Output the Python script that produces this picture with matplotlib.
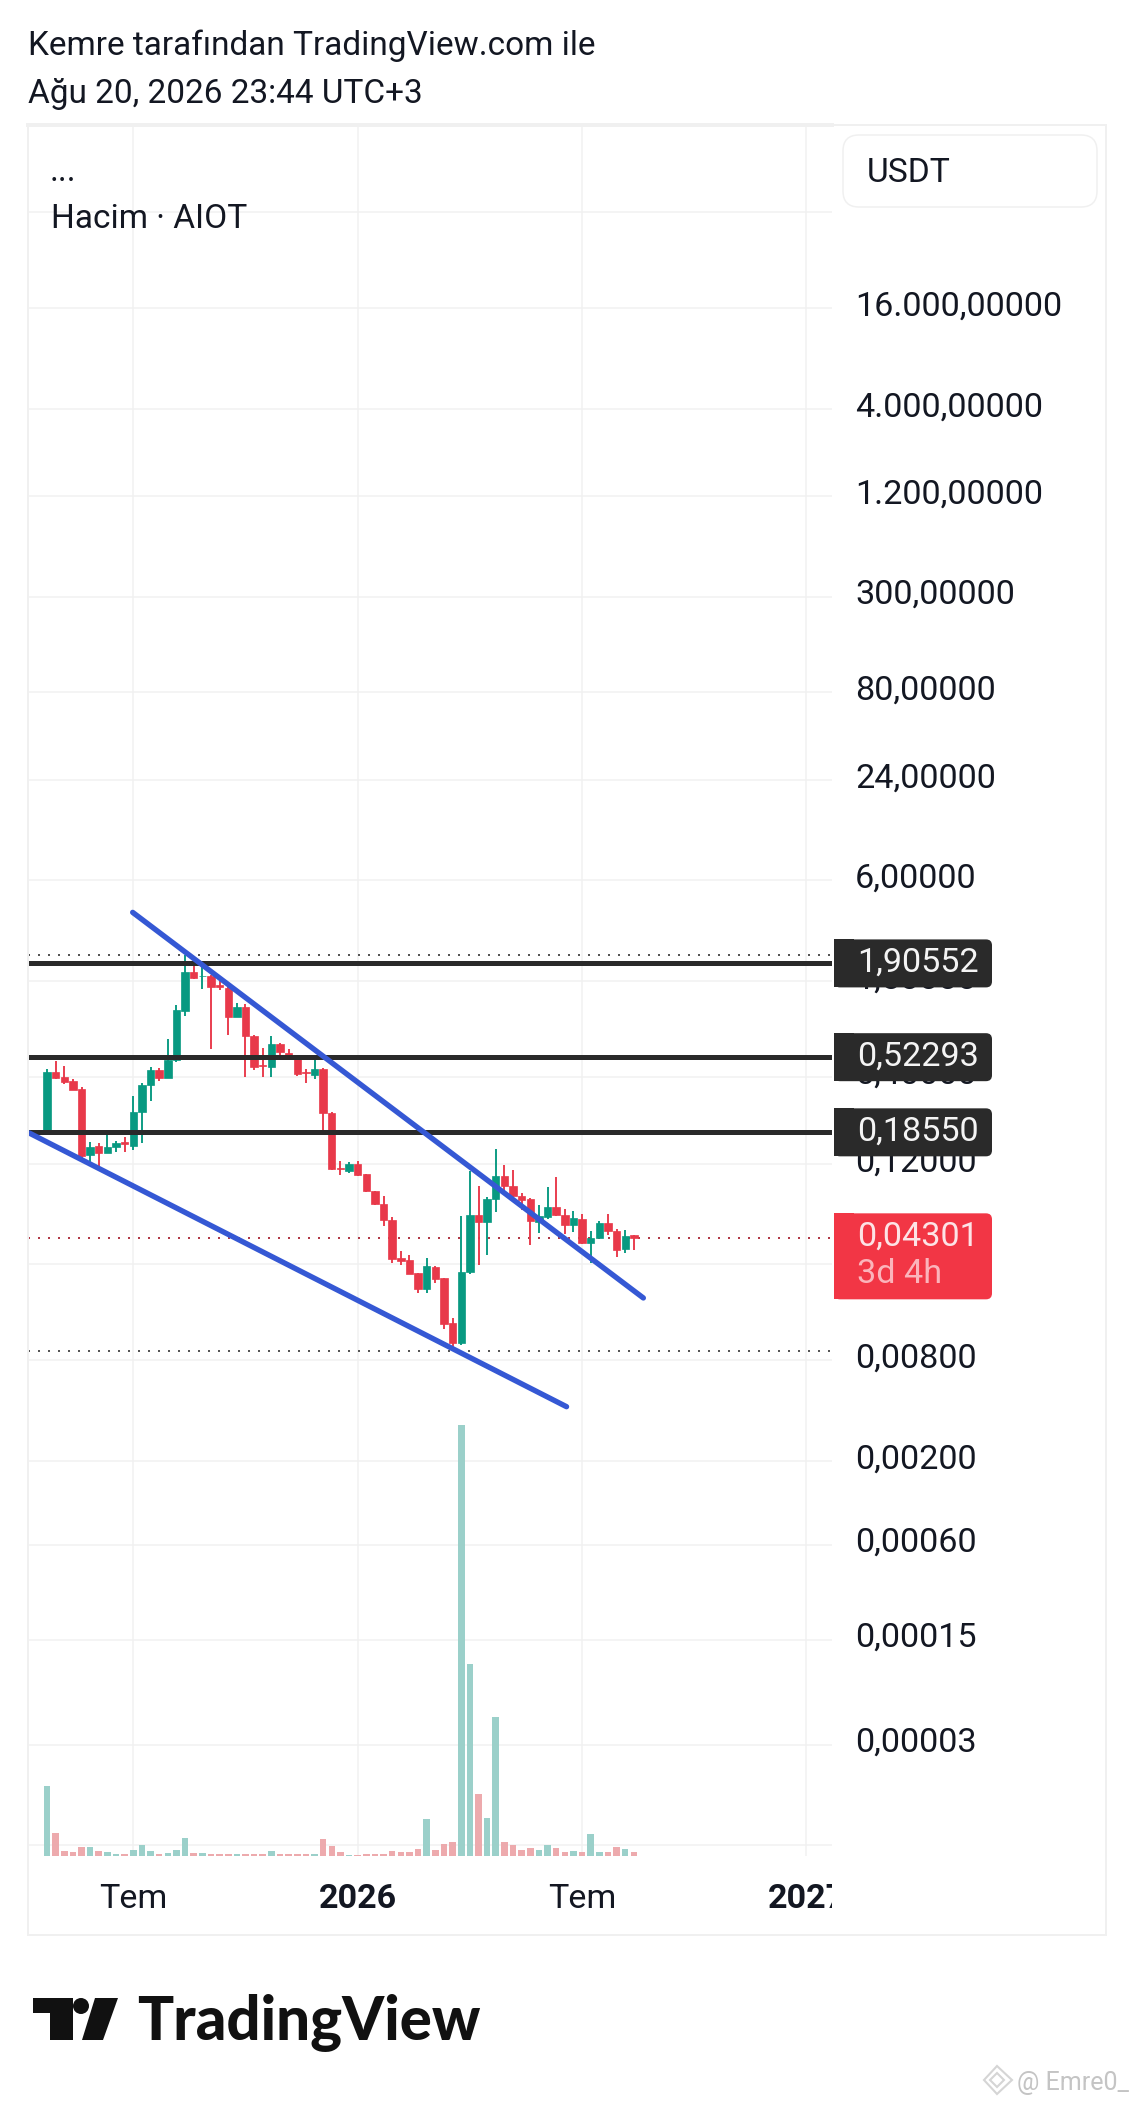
import numpy as np
import matplotlib
matplotlib.use('Agg')
import matplotlib.pyplot as plt
from matplotlib.patches import Rectangle, FancyBboxPatch, Polygon, Circle
from matplotlib.ticker import NullLocator
from matplotlib.transforms import Bbox, TransformedBbox

plt.rcParams['font.family'] = ['Roboto', 'DejaVu Sans']

W, H = 1135, 2105
PX = 0.72  # px -> pt at dpi 100

# weekly candles
opens = [.1829, .424, .3976, .3763, .337, .135, .1535, .14, .1522, .1615, .1543, .2443, .3544, .4358, .394, .5026, .992,
         1.691, 1.593, 1.593, 1.413, 1.350, .9051, 1.044, .6964, .4691, .4543, .6295, .556, .5261, .424, .4068, .442,
         .2409, .1128, .1093, .1198, .1039, .0822, .0687, .0556, .0326, .03174, .02653, .02148, .02909, .02477, .01332,
         .01015, .02715, .05903, .05359, .0736, .1011, .0889, .0767, .0736, .0541, .058, .0665, .0596, .0514, .0564,
         .0401, .043, .0529, .0478, .0373, .0448]
highs = [.442, .496, .4627, .385, .3448, .163, .1608, .1871, .1653, .173, .3059, .3677, .4584, .448, .6683, 1.073, 2.138,
         1.923, 1.863, 1.622, 1.529, 1.369, 1.108, 1.088, .7127, .5902, .6996, .6383, .5851, .531, .4438, .5096, .448,
         .2443, .1254, .1226, .1254, .1044, .083, .0767, .058, .03627, .03417, .02678, .03278, .02936, .025, .01427,
         .05849, .1093, .0885, .0764, .1473, .1182, .1103, .0807, .0746, .0678, .0868, .0997, .0641, .0624, .0599,
         .0478, .0549, .0601, .0487, .048, .045]
lows = [.180, .3887, .361, .3308, .1296, .1237, .1155, .139, .1407, .1407, .1453, .1593, .2856, .3781, .394, .4866, .9262,
        1.529, 1.332, .582, 1.319, .7127, .9051, .3958, .4379, .3958, .3958, .5073, .5073, .4031, .3677, .385, .1871,
        .1098, .1025, .1054, .1015, .0818, .0681, .0512, .03047, .02963, .02617, .02032, .02032, .02312, .01237, .00913,
        .00983, .02617, .0299, .03433, .0621, .0807, .0757, .0635, .0394, .0465, .0559, .0588, .0454, .0471, .0399,
        .03047, .043, .045, .0334, .0353, .0368]
closes = [.428, .394, .3694, .3338, .1338, .1522, .14, .1522, .1593, .1571, .2454, .3561, .4379, .394, .5026, .9968, 1.684,
          1.556, 1.607, 1.382, 1.382, .9051, 1.039, .6964, .4584, .4627, .6238, .5612, .5213, .4163, .4182, .442, .2409,
          .1113, .1113, .1198, .1025, .0822, .0687, .0556, .0325, .03145, .02641, .02138, .02922, .02443, .01326, .01015,
          .02715, .05903, .05359, .0736, .1011, .0889, .0767, .0729, .0543, .0582, .0665, .0593, .0514, .0566, .0401,
          .0434, .0529, .0478, .0368, .0446, .04301]
# relative volume, no scale on the picture
volumes = [70, 23, 5, 4, 9, 9, 5, 4, 2, 2, 6, 11, 5, 2, 3, 6, 18, 3, 3, 2, 2, 2, 2, 2, 2, 2, 5, 2, 2, 2, 2, 2, 17, 10, 4,
           1.5, 1.5, 2, 2, 2, 5, 4, 4, 7, 37, 6, 12, 14, 431, 192, 62, 38, 139, 14, 11, 6, 8, 6, 11, 8, 4, 5, 4, 22, 4,
           4, 9, 7, 4]

# price axis (some labels are rounded by the platform, hence the values)
tick_values = [60000, 16000, 4000, 1200, 300, 80, 24, 6, 1.5, 0.4, 0.12, 0.03, 0.008, 0.002, 0.00063, 0.00017, 0.00004, 0.00001]
tick_labels = ['', '16.000,00000', '4.000,00000', '1.200,00000', '300,00000', '80,00000', '24,00000', '6,00000',
               '1,50000', '0,40000', '0,12000', '', '0,00800', '0,00200', '0,00060', '0,00015', '0,00003', '']
week_ticks = [10, 36, 62, 88]
week_labels = ['Tem', '2026', 'Tem', '2027']

# drawings
levels = [1.90552, 0.52293, 0.18550]
level_labels = ['1,90552', '0,52293', '0,18550']
last_price = 0.04301
last_label = '0,04301'
countdown = '3d 4h'
high_price = 2.138
low_price = 0.00913
upper_x, upper_y = [9.93, 69.1], [3.851, 0.0189]
lower_x, lower_y = [-2.05, 60.2], [0.1837, 0.00422]

GREEN = '#089981'
RED = '#e8394a'
VOL_GREEN = '#96cec7'
VOL_RED = '#eca6a9'
GRID = '#f1f1f1'
TEXT = '#131722'
BIG = 34.2 * PX

fig = plt.figure(figsize=(W / 100, H / 100), dpi=100, facecolor='white')
ax = fig.add_axes([28 / W, 1 - 1856 / H, (832 - 28) / W, (1856 - 125) / H])
ax.set_yscale('log')
ax.patch.set_visible(False)
ax.set_zorder(1)
for s in ax.spines.values():
    s.set_visible(False)

x = np.arange(len(opens))
o, c = np.array(opens), np.array(closes)
colors = [GREEN if b >= a else RED for a, b in zip(opens, closes)]
vol_colors = [VOL_GREEN if b >= a else VOL_RED for a, b in zip(opens, closes)]

ax.vlines(x, lows, highs, colors=colors, linewidth=1.9 * PX, zorder=3)
ax.bar(x, np.abs(c - o), bottom=np.minimum(o, c), width=0.86, color=colors, edgecolor=colors, linewidth=0.5, zorder=3)

# levels and dotted price lines
for lv in levels:
    ax.axhline(lv, color='#2a2a2a', linewidth=5 * PX, zorder=4)
ax.axhline(high_price, color='#555555', linewidth=2 * PX, linestyle=(0, (1, 4)), zorder=2)
ax.axhline(low_price, color='#555555', linewidth=2 * PX, linestyle=(0, (1, 4)), zorder=2)
ax.axhline(last_price, color='#b03a48', linewidth=2 * PX, linestyle=(0, (1, 4)), zorder=2)

ax.plot(upper_x, upper_y, color='#3558d4', linewidth=5.4 * PX, solid_capstyle='round', zorder=5)
ax.plot(lower_x, lower_y, color='#3558d4', linewidth=5.4 * PX, solid_capstyle='round', zorder=5)

ax.set_xlim(-2.2, 90.96)
ax.set_ylim(8.6e-6, 2.0e5)
ax.set_yticks(tick_values)
ax.set_yticklabels([])
ax.yaxis.set_minor_locator(NullLocator())
ax.set_xticks(week_ticks)
ax.set_xticklabels(week_labels, fontsize=BIG, color=TEXT)
ax.tick_params(length=0, pad=27 * PX)
ax.grid(True, color=GRID, linewidth=1.5 * PX, zorder=0)
ax.set_axisbelow(True)

clip = TransformedBbox(Bbox([[0, 0], [832 / W, 1]]), fig.transFigure)
for lab, txt in zip(ax.get_xticklabels(), week_labels):
    if txt[0] == '2':
        lab.set_fontweight('bold')
    lab.set_clip_on(True)
    lab.set_clip_box(clip)

for val, txt in zip(tick_values, tick_labels):
    if txt:
        ax.annotate(txt, xy=(1, val), xycoords=('axes fraction', 'data'), xytext=(23 * PX, 1.5 * PX),
                    textcoords='offset points', va='center', ha='left', fontsize=BIG, color=TEXT,
                    annotation_clip=False)

# volume on its own linear scale
vol = ax.twinx()
vol.set_position(ax.get_position())
vol.set_zorder(2)
vol.bar(x, volumes, width=0.76, color=vol_colors, alpha=0.95, linewidth=0)
vol.set_ylim(0, 1731)
vol.axis('off')

# chrome in pixel coordinates
ch = fig.add_axes([0, 0, 1, 1])
ch.set_xlim(0, W)
ch.set_ylim(H, 0)
ch.axis('off')
ch.set_zorder(10)

ch.add_patch(Rectangle((28, 125), 1106 - 28, 1935 - 125, fill=False, edgecolor='#f0f0f0', linewidth=2 * PX))
ch.plot([28, 832], [125, 125], color='#f0f0f0', linewidth=4 * PX)
ch.add_patch(FancyBboxPatch((851, 143), 238, 56, boxstyle='round,pad=8,rounding_size=16', facecolor='white',
                            edgecolor='#f0f0f0', linewidth=1.5 * PX))
ch.text(867, 173, 'USDT', fontsize=33.6 * PX, color=TEXT, va='center')

ch.text(28, 46, 'Kemre tarafından TradingView.com ile', fontsize=33.4 * PX, color=TEXT, va='center')
ch.text(28, 94, 'Ağu 20, 2026 23:44 UTC+3', fontsize=33.4 * PX, color=TEXT, va='center')
ch.text(50, 172, '...', fontsize=33.4 * PX, color=TEXT, va='center')
ch.text(51, 219, 'Hacim · AIOT', fontsize=33.4 * PX, color=TEXT, va='center')


def price_px(p):
    # pixel row of a price on the main axes
    return H - ax.transData.transform((0, p))[1]


def tag(top, bottom, color):
    ch.add_patch(FancyBboxPatch((840, top + 6), 146, bottom - top - 12, boxstyle='round,pad=6,rounding_size=6',
                                facecolor=color, edgecolor='none', zorder=5))
    ch.add_patch(Rectangle((834, top), 20, bottom - top, facecolor=color, edgecolor='none', zorder=5))


for lv, txt in zip(levels, level_labels):
    yy = price_px(lv)
    tag(yy - 24, yy + 24, '#2a2a2a')
    ch.text(857, yy - 1, txt, fontsize=BIG, color='#f4f4f4', va='center', zorder=6)

yy = price_px(last_price)
tag(yy - 25, yy + 61, '#f23645')
ch.text(857, yy - 2, last_label, fontsize=BIG, color='#fde3e6', va='center', zorder=6)
ch.text(857, yy + 36, countdown, fontsize=BIG, color='#fbb4bb', va='center', zorder=6)

# TradingView logo
ch.add_patch(Polygon([(33, 1998), (73, 1998), (73, 2040), (50, 2040), (50, 2013), (33, 2013)], facecolor='#111111', edgecolor='none'))
ch.add_patch(Circle((81, 2006), 8, facecolor='#111111', edgecolor='none'))
ch.add_patch(Polygon([(95, 1998), (118, 1998), (103, 2040), (82, 2040)], facecolor='#111111', edgecolor='none'))
ch.text(137, 2040, 'TradingView', fontsize=60 * PX, family='Lato', fontweight='black', color='#111111', va='baseline')

# watermark
ch.add_patch(Polygon([(997, 2066), (1012, 2080), (997, 2094), (984, 2080)], fill=False, edgecolor='#d5d5d5', linewidth=1.5))
ch.add_patch(Polygon([(997, 2073), (1004, 2080), (997, 2087), (990, 2080)], fill=False, edgecolor='#d5d5d5', linewidth=1.5))
ch.text(1017, 2083, '@ Emre0_', fontsize=25 * PX, color='#c4c4c4', va='center')

fig.savefig('out.png', dpi=100, facecolor='white')
